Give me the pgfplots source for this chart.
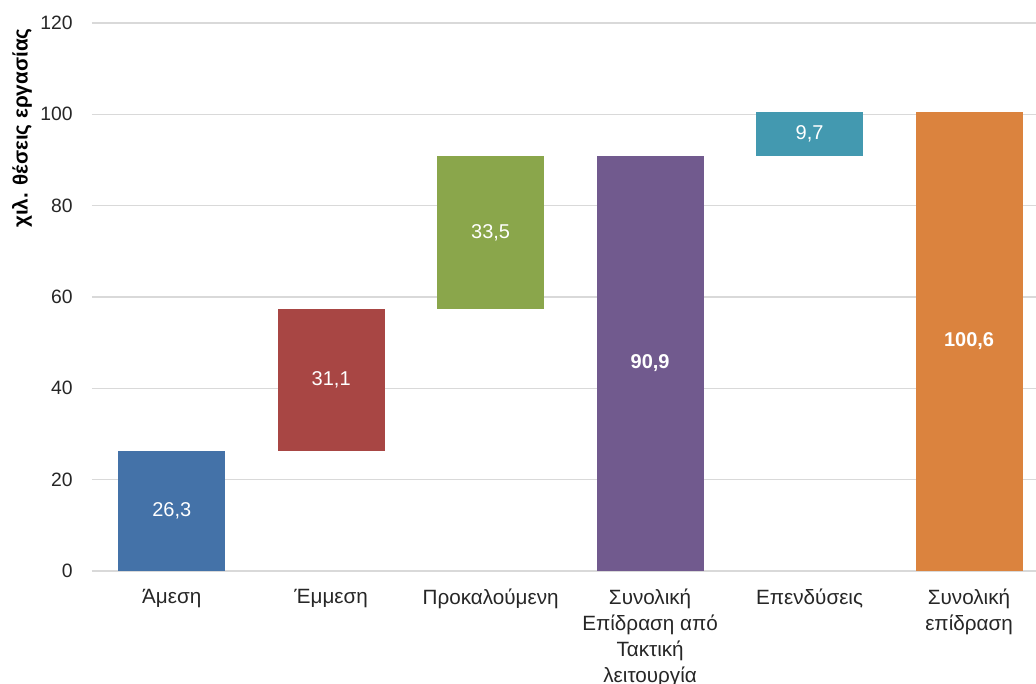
\documentclass[border=0pt]{standalone}
\usepackage{fontspec}
\setmainfont{Liberation Sans}
\usepackage{pgfplots}
\pgfplotsset{compat=1.18}
\usepackage{pgfplotstable}

\definecolor{cBlue}{HTML}{4472A8}
\definecolor{cRed}{HTML}{A84644}
\definecolor{cGreen}{HTML}{8AA64B}
\definecolor{cPurple}{HTML}{715A8E}
\definecolor{cTeal}{HTML}{4399B0}
\definecolor{cOrange}{HTML}{DB833E}
\definecolor{cGrid}{HTML}{D9D9D9}
\definecolor{cText}{HTML}{262626}

\pgfplotstableread{
x base amesi emmesi prok synt ep synol
0 0    26.3 0    0    0    0   0
1 26.3 0    31.1 0    0    0   0
2 57.4 0    0    33.5 0    0   0
3 0    0    0    0    90.9 0   0
4 90.9 0    0    0    0    9.7 0
5 0    0    0    0    0    0   100.6
}\bars

\pgfplotstableread{
x y lab
0 13.15 26,3
1 41.85 31,1
2 74.15 33,5
3 45.45 \textbf{90,9}
4 95.75 9,7
5 50.3 \textbf{100,6}
}\labels

\begin{document}
\begin{tikzpicture}
\useasboundingbox (0,0) rectangle (777pt,513pt);
\clip (0,0) rectangle (777pt,513pt);
\begin{axis}[
  at={(69pt,84.75pt)}, anchor=south west,
  scale only axis, width=708pt, height=411pt,
  xmin=-0.5, xmax=5.42, ymin=0, ymax=120,
  ybar stacked, bar width=0.671,
  axis line style={draw=none},
  major tick length=0pt,
  /pgf/number format/assume math mode=true,
  ymajorgrids, grid style={draw=cGrid, line width=1.1pt},
  ytick={0,20,...,120},
  xtick={0,...,5},
  xticklabels={Άμεση, Έμμεση, Προκαλούμενη, Συνολική\\Επίδραση από\\Τακτική\\λειτουργία, Επενδύσεις, Συνολική\\επίδραση},
  xticklabel style={align=center, font=\fontsize{15.5}{19.5}\selectfont, text=cText, yshift=-10pt},
  yticklabel style={font=\fontsize{14.5}{17}\selectfont, text=cText, xshift=-11pt},
  ylabel={\textbf{χιλ. θέσεις εργασίας}},
  ylabel style={font=\fontsize{15.5}{18}\selectfont, text=black, at={(axis description cs:-0.0742,0.808)}, anchor=center, rotate=0},
]
\addplot[fill=none, draw=none] table[x=x, y=base] {\bars};
\addplot[fill=cBlue, draw=none] table[x=x, y=amesi] {\bars};
\addplot[fill=cRed, draw=none] table[x=x, y=emmesi] {\bars};
\addplot[fill=cGreen, draw=none] table[x=x, y=prok] {\bars};
\addplot[fill=cPurple, draw=none] table[x=x, y=synt] {\bars};
\addplot[fill=cTeal, draw=none] table[x=x, y=ep] {\bars};
\addplot[fill=cOrange, draw=none] table[x=x, y=synol] {\bars};
\end{axis}
\begin{axis}[
  at={(69pt,84.75pt)}, anchor=south west,
  scale only axis, width=708pt, height=411pt,
  xmin=-0.5, xmax=5.42, ymin=0, ymax=120,
  hide axis,
]
\addplot[only marks, mark=none, nodes near coords, point meta=explicit symbolic,
  nodes near coords style={anchor=center, text=white, font=\fontsize{15}{18}\selectfont}]
  table[x=x, y=y, meta=lab] {\labels};
\end{axis}
\end{tikzpicture}
\end{document}
